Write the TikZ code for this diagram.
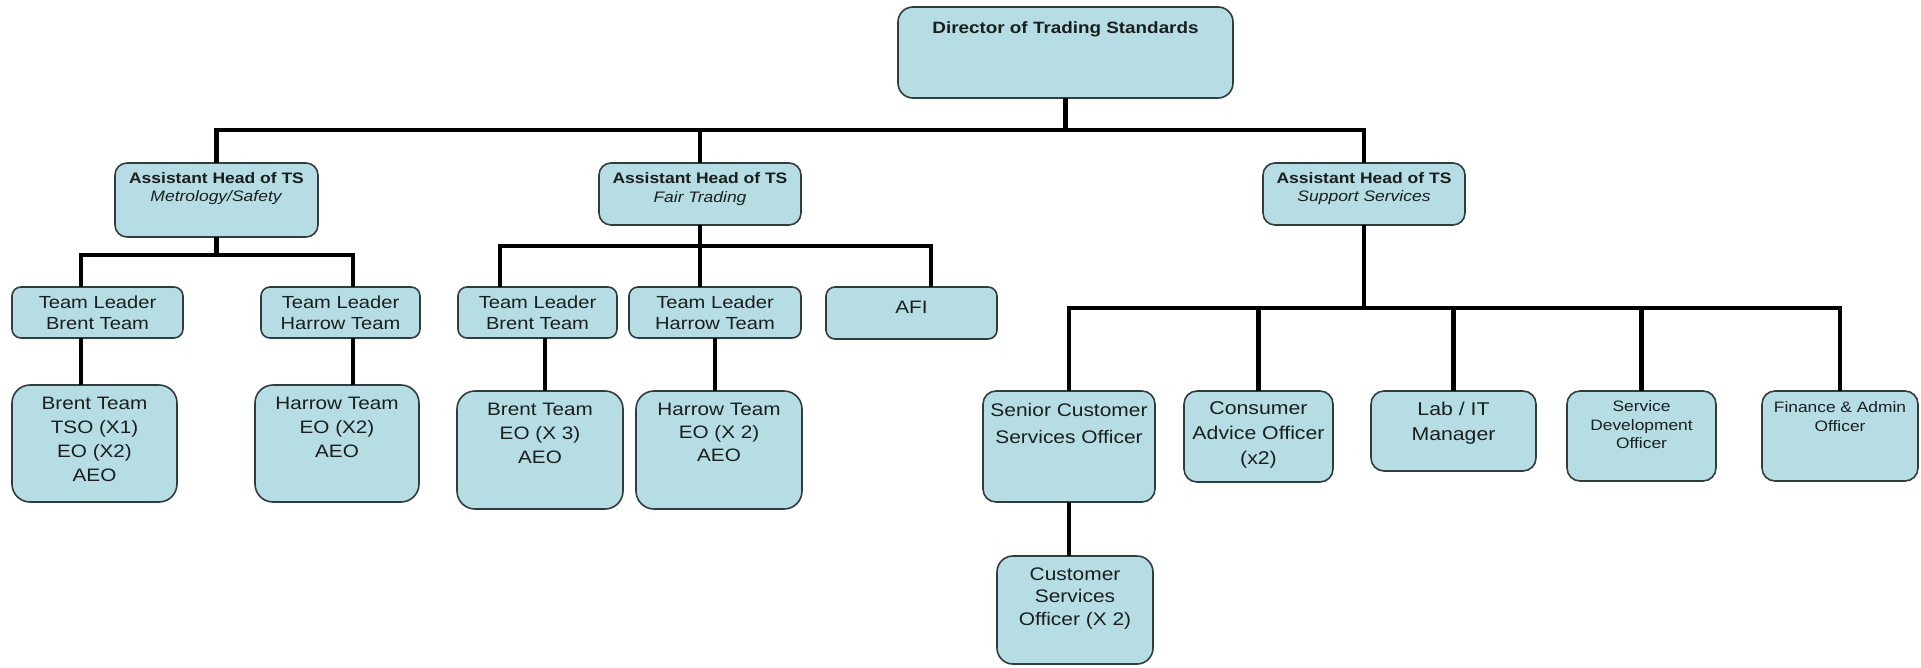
\documentclass[tikz,border=0pt]{standalone}
\usepackage{fontspec}
\setmainfont{Liberation Sans}[FakeStretch=1.15]
\definecolor{boxfill}{RGB}{183,221,228}
\definecolor{boxline}{RGB}{50,60,62}
\definecolor{txtcol}{RGB}{25,30,30}
\tikzset{
  obox/.style={draw=boxline, fill=boxfill, line width=1.6pt, rounded corners=9pt, inner sep=0pt, outer sep=0pt},
  otext/.style={anchor=north, inner sep=0pt, align=center, text=txtcol},
  fbig/.style={font={\fontsize{18}{24}\selectfont}},
  conn/.style={draw=black, line width=4.5pt}
}
\begin{document}
\begin{tikzpicture}[x=1pt,y=-1pt]
\useasboundingbox (0,0) rectangle (1921,667);
\fill[white] (0,0) rectangle (1921,667);

% ---- boxes ----
\node[obox, rounded corners=15pt, minimum width=335pt, minimum height=91pt] (dir) at (1065.5,52.5) {};
\node[obox, rounded corners=12pt, minimum width=203pt, minimum height=74pt] (metro) at (216.5,200) {};
\node[obox, rounded corners=12pt, minimum width=202pt, minimum height=62pt] (fair) at (700,194) {};
\node[obox, rounded corners=12pt, minimum width=202pt, minimum height=62pt] (supp) at (1364,194) {};

\node[obox, minimum width=171pt, minimum height=51pt] (tlb1) at (97.5,312.5) {};
\node[obox, minimum width=159pt, minimum height=51pt] (tlh1) at (340.5,312.5) {};
\node[obox, minimum width=159pt, minimum height=51pt] (ftlb) at (537.5,312.5) {};
\node[obox, minimum width=172pt, minimum height=51pt] (ftlh) at (715,312.5) {};
\node[obox, minimum width=171pt, minimum height=52pt] (afi) at (911.5,313) {};

\node[obox, rounded corners=18pt, minimum width=165pt, minimum height=117pt] (bt1) at (94.5,443.5) {};
\node[obox, rounded corners=18pt, minimum width=164pt, minimum height=117pt] (ht1) at (337,443.5) {};
\node[obox, rounded corners=18pt, minimum width=166pt, minimum height=118pt] (fbt) at (540,450) {};
\node[obox, rounded corners=18pt, minimum width=166pt, minimum height=118pt] (fht) at (719,450) {};

\node[obox, rounded corners=13pt, minimum width=172pt, minimum height=111pt] (senior) at (1069,446.5) {};
\node[obox, rounded corners=13pt, minimum width=149pt, minimum height=91pt] (cons) at (1258.5,436.5) {};
\node[obox, rounded corners=13pt, minimum width=165pt, minimum height=80pt] (lab) at (1453.5,431) {};
\node[obox, rounded corners=13pt, minimum width=149pt, minimum height=90pt] (sdev) at (1641.5,436) {};
\node[obox, rounded corners=13pt, minimum width=156pt, minimum height=90pt] (fin) at (1840,436) {};
\node[obox, rounded corners=16pt, minimum width=156pt, minimum height=108pt] (cso) at (1075,610) {};

% ---- texts ----
\node[otext, font={\fontsize{16.4}{20}\selectfont\bfseries}] (dirt) at (1065.5,21) {Director of Trading Standards};
\node[otext, font={\fontsize{15.2}{17.5}\selectfont}] (metrot) at (216.5,172.5) {\textbf{Assistant Head of TS}\\\textit{Metrology/Safety}};
\node[otext, font={\fontsize{15.2}{18.5}\selectfont}] (fairt) at (700,172.5) {\textbf{Assistant Head of TS}\\\textit{Fair Trading}};
\node[otext, font={\fontsize{15.2}{17.5}\selectfont}] (suppt) at (1364,172.5) {\textbf{Assistant Head of TS}\\\textit{Support Services}};

\node[otext, font={\fontsize{17.5}{21}\selectfont}] (tlb1t) at (97.5,295.7) {Team Leader\\Brent Team};
\node[otext, font={\fontsize{17.5}{21}\selectfont}] (tlh1t) at (340.5,295.7) {Team Leader\\Harrow Team};
\node[otext, font={\fontsize{17.5}{21}\selectfont}] (ftlbt) at (537.5,295.7) {Team Leader\\Brent Team};
\node[otext, font={\fontsize{17.5}{21}\selectfont}] (ftlht) at (715,295.7) {Team Leader\\Harrow Team};
\node[otext, fbig] (afit) at (911.5,300.5) {AFI};

\node[otext, fbig] (bt1t) at (94.5,396.5) {Brent Team\\TSO (X1)\\EO (X2)\\AEO};
\node[otext, fbig] (ht1t) at (337,396.5) {Harrow Team\\EO (X2)\\AEO};
\node[otext, fbig] (fbtt) at (540,402.5) {Brent Team\\EO (X 3)\\AEO};
\node[otext, font={\fontsize{18}{23}\selectfont}] (fhtt) at (719,402.5) {Harrow Team\\EO (X 2)\\AEO};

\node[otext, font={\fontsize{18.2}{27}\selectfont}] (seniort) at (1069,403.4) {Senior Customer\\Services Officer};
\node[otext, font={\fontsize{18.5}{25}\selectfont}] (const) at (1258.5,401.4) {Consumer\\Advice Officer\\(x2)};
\node[otext, font={\fontsize{18.5}{25}\selectfont}] (labt) at (1453.5,401.4) {Lab / IT\\Manager};
\node[otext, font={\fontsize{15.1}{18.5}\selectfont}] (sdevt) at (1641.5,400.6) {Service\\Development\\Officer};
\node[otext, font={\fontsize{15.1}{19}\selectfont}] (fint) at (1840,401.6) {Finance \& Admin\\Officer};
\node[otext, font={\fontsize{18.2}{22.5}\selectfont}] (csot) at (1075,567.5) {Customer\\Services\\Officer (X 2)};

% ---- connectors ----
\coordinate (b1) at (0,130);
\draw[conn] (dir.south) -- (dir.south |- b1);
\draw[conn] (metro.north) -- (metro.north |- b1) -- (supp.north |- b1) -- (supp.north);
\draw[conn] (fair.north) -- (fair.north |- b1);

\coordinate (b2) at (0,255);
\draw[conn] (metro.south) -- (metro.south |- b2);
\draw[conn] ([xshift=-16.5pt]tlb1.north) -- ([xshift=-16.5pt]tlb1.north |- b2) -- ([xshift=12.5pt]tlh1.north |- b2) -- ([xshift=12.5pt]tlh1.north);
\draw[conn] ([xshift=-16.5pt]tlb1.south) -- ([xshift=-16.5pt]tlb1.south |- bt1.north);
\draw[conn] ([xshift=12.5pt]tlh1.south) -- ([xshift=12.5pt]tlh1.south |- ht1.north);

\coordinate (b3) at (0,246);
\draw[conn] (fair.south) -- (fair.south |- b3);
\draw[conn] ([xshift=-37.5pt]ftlb.north) -- ([xshift=-37.5pt]ftlb.north |- b3) -- ([xshift=19.5pt]afi.north |- b3) -- ([xshift=19.5pt]afi.north);
\draw[conn] ([xshift=-15pt]ftlh.north) -- ([xshift=-15pt]ftlh.north |- b3);
\draw[conn] ([xshift=7.5pt]ftlb.south) -- ([xshift=7.5pt]ftlb.south |- fbt.north);
\draw[conn] (ftlh.south) -- (ftlh.south |- fht.north);

\coordinate (b4) at (0,308);
\draw[conn] (supp.south) -- (supp.south |- b4);
\draw[conn] (senior.north) -- (senior.north |- b4) -- (fin.north |- b4) -- (fin.north);
\draw[conn] (cons.north) -- (cons.north |- b4);
\draw[conn] (lab.north) -- (lab.north |- b4);
\draw[conn] (sdev.north) -- (sdev.north |- b4);
\draw[conn] (senior.south) -- (senior.south |- cso.north);
\end{tikzpicture}
\end{document}
